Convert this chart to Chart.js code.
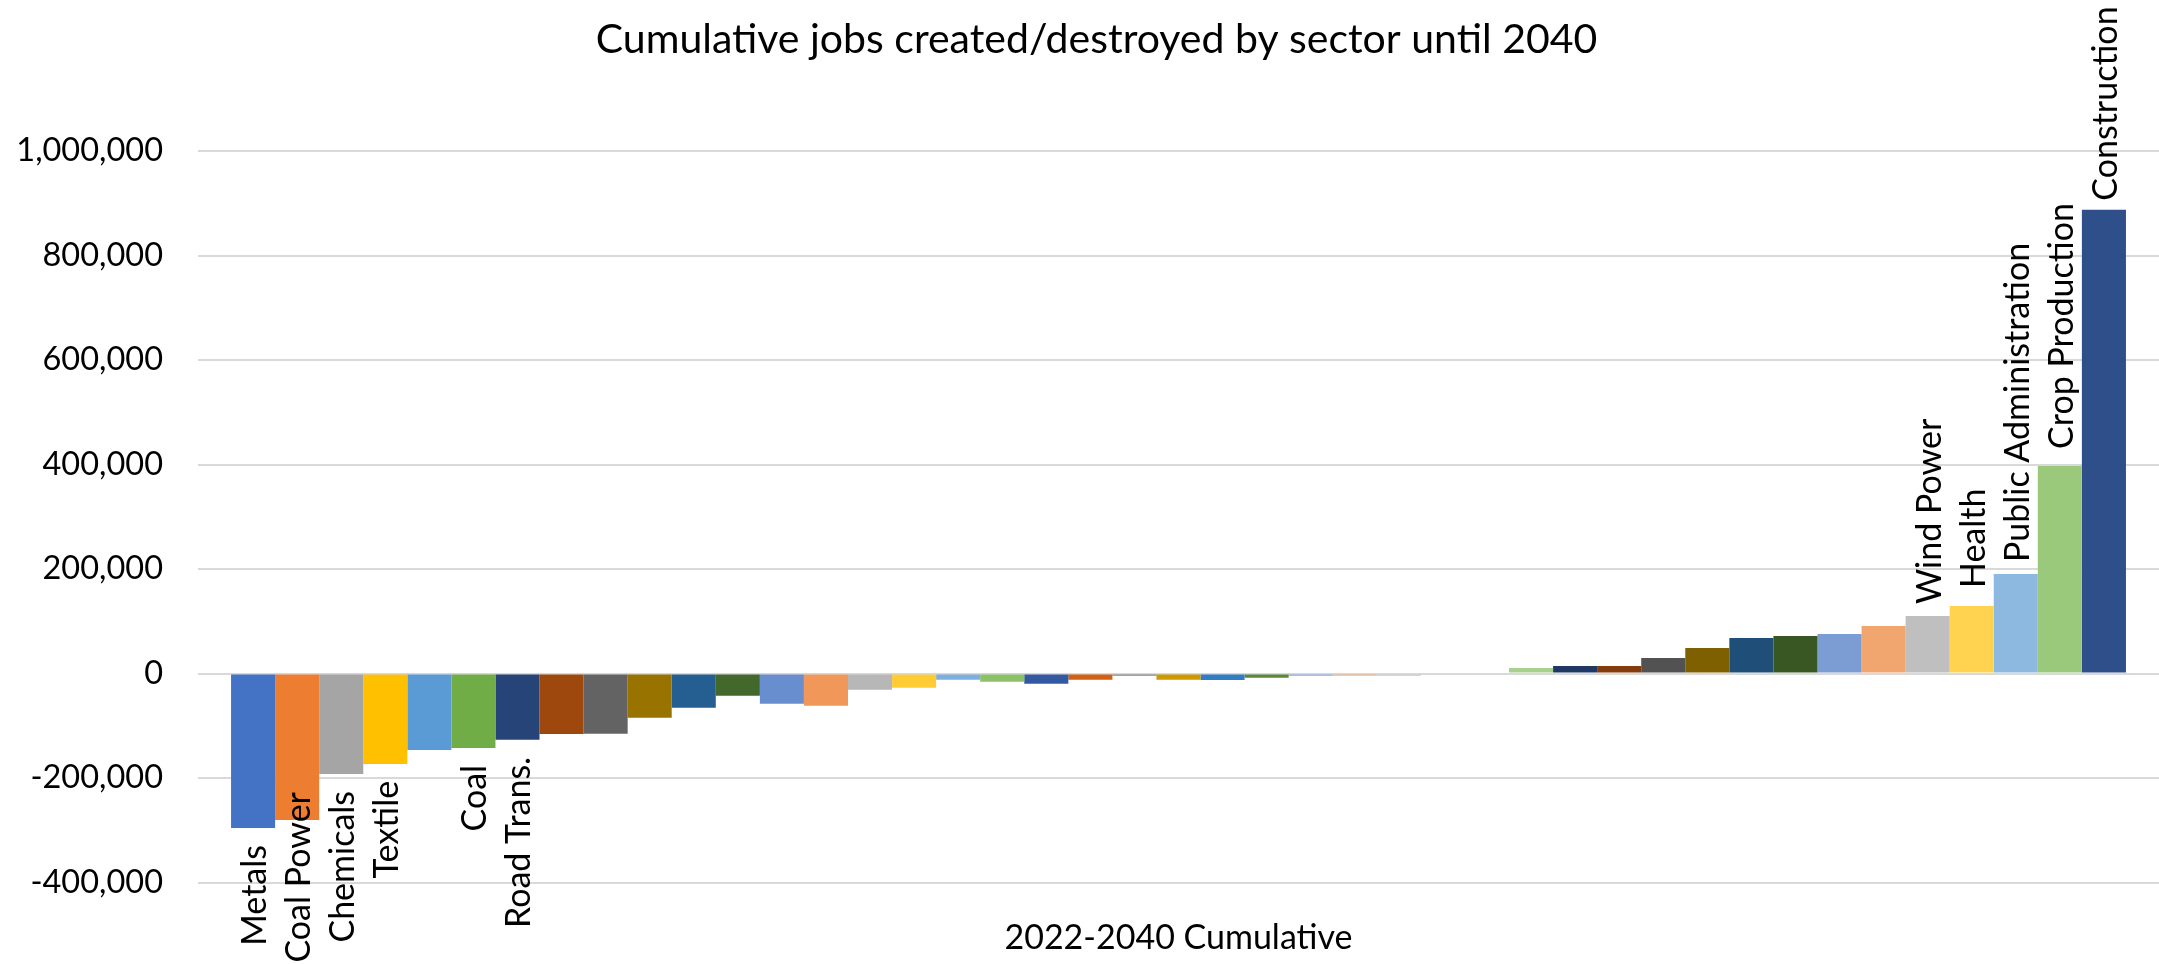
<!DOCTYPE html>
<html>
<head>
<meta charset="utf-8">
<title>Cumulative jobs created/destroyed by sector until 2040</title>
<script src="https://cdn.jsdelivr.net/npm/chart.js@4"></script>
<style>
  html, body { margin: 0; padding: 0; background: #fff; }
  .chart-box { width: 2159px; height: 964px; position: relative; }
</style>
</head>
<body>
<div class="chart-box"><canvas id="jobsChart"></canvas></div>
<script>
// one category, one series per sector (bars sit side by side)
const period = ['2022-2040 Cumulative']

// only the sectors that carry a label in the chart have a name
const sectors = [
    'Metals', 'Coal Power', 'Chemicals', 'Textile', '', 'Coal',
    'Road Trans.', '', '', '', '', '',
    '', '', '', '', '', '',
    '', '', '', '', '', '',
    '', '', '', '', '', '',
    '', '', '', '', '', '',
    '', '', 'Wind Power', 'Health', 'Public Administration', 'Crop Production',
    'Construction'
]

const jobs = [
    -295700, -280400, -192200, -173000, -146200, -142400,
    -127000, -115800, -115500, -84900, -65700, -42700,
    -58000, -61800, -31200, -27400, -12000, -16000,
    -19700, -12000, -4500, -12000, -12500, -8200,
    -4500, -4500, -4500, 0, 0, 10300,
    14200, 14200, 29500, 48700, 67800, 71700,
    75500, 90800, 110000, 129100, 190400, 397300,
    887700
]

const yTicks = [-400000, -200000, 0, 200000, 400000, 600000, 800000, 1000000]

const titleText = 'Cumulative jobs created/destroyed by sector until 2040'

const barColors = [
    '#4472C4', '#ED7D31', '#A5A5A5', '#FFC000', '#5B9BD5', '#70AD47',
    '#264478', '#9E480E', '#636363', '#997300', '#255E91', '#43682B',
    '#698ED0', '#F1975A', '#B7B7B7', '#FFCD33', '#7CAFDD', '#8CC168',
    '#335AA1', '#D26012', '#848484', '#CC9A00', '#327DC2', '#5A8A39',
    '#8FAADC', '#F4B183', '#C9C9C9', '#FFD966', '#9DC3E6', '#A9D18E',
    '#203864', '#843C0C', '#525252', '#7F6000', '#1F4E79', '#385723',
    '#7C9CD4', '#F1A56F', '#BFBFBF', '#FFD34F', '#8DB9E0', '#9BC97B',
    '#2E4F8A'
]

// distance between bar end and its label (labels were nudged by hand in the original)
const labelGap = {
    'Coal Power': -28,
    'Wind Power': 12,
    'Health': 18,
    'Public Administration': 12,
    'Crop Production': 17,
    'Construction': 9
}

const FONT = 'Lato'

const barLabels = {
    id: 'barLabels',
    afterDatasetsDraw(chart) {
        const ctx = chart.ctx
        ctx.save()
        ctx.font = `34px ${FONT}`
        ctx.fillStyle = '#000'
        ctx.textBaseline = 'middle'
        chart.data.datasets.forEach((ds, i) => {
            if (!ds.label) return
            const bar = chart.getDatasetMeta(i).data[0]
            const gap = labelGap[ds.label] ?? 17
            const up = ds.data[0] >= 0
            ctx.save()
            ctx.translate(bar.x + 2, up ? bar.y - gap : bar.y + gap)
            ctx.rotate(-Math.PI / 2)
            ctx.textAlign = up ? 'left' : 'right'
            ctx.fillText(ds.label, 0, 0)
            ctx.restore()
        })
        ctx.restore()
    }
}

// title sits a bit right of the canvas centre, like in the original
const chartTitle = {
    id: 'chartTitle',
    afterDraw(chart) {
        const ctx = chart.ctx
        ctx.save()
        ctx.font = `41px ${FONT}`
        ctx.fillStyle = '#000'
        ctx.textAlign = 'center'
        ctx.textBaseline = 'alphabetic'
        ctx.fillText(titleText, chart.width / 2 + 17, 53)
        ctx.restore()
    }
}

const ctx = document.getElementById('jobsChart').getContext('2d')

new Chart(ctx, {
    type: 'bar',
    data: {
        labels: period,
        datasets: jobs.map((value, i) => ({
            label: sectors[i],
            data: [value],
            backgroundColor: barColors[i],
            borderWidth: 0,
            barPercentage: 1,
            categoryPercentage: jobs.length / (jobs.length + 1.5)
        }))
    },
    options: {
        responsive: true,
        maintainAspectRatio: false,
        animation: false,
        devicePixelRatio: 1,
        layout: {
            padding: { left: 0, right: 0, top: 151, bottom: 0 }
        },
        scales: {
            x: {
                grid: { display: false },
                border: { display: false },
                ticks: {
                    color: '#000',
                    font: { family: FONT, size: 34 },
                    padding: 27
                },
                afterFit: scale => { scale.height = 81.5 }
            },
            y: {
                min: yTicks[0],
                max: yTicks[yTicks.length - 1],
                border: { display: false },
                grid: {
                    color: '#d9d9d9',
                    lineWidth: 2,
                    drawTicks: false
                },
                ticks: {
                    stepSize: yTicks[1] - yTicks[0],
                    color: '#000',
                    font: { family: FONT, size: 32.5 },
                    padding: 35,
                    callback: value => value.toLocaleString('en-US')
                },
                afterFit: scale => { scale.width = 198 }
            }
        },
        plugins: {
            legend: { display: false },
            tooltip: { enabled: false },
            title: { display: false }
        }
    },
    plugins: [barLabels, chartTitle]
})
</script>
</body>
</html>
